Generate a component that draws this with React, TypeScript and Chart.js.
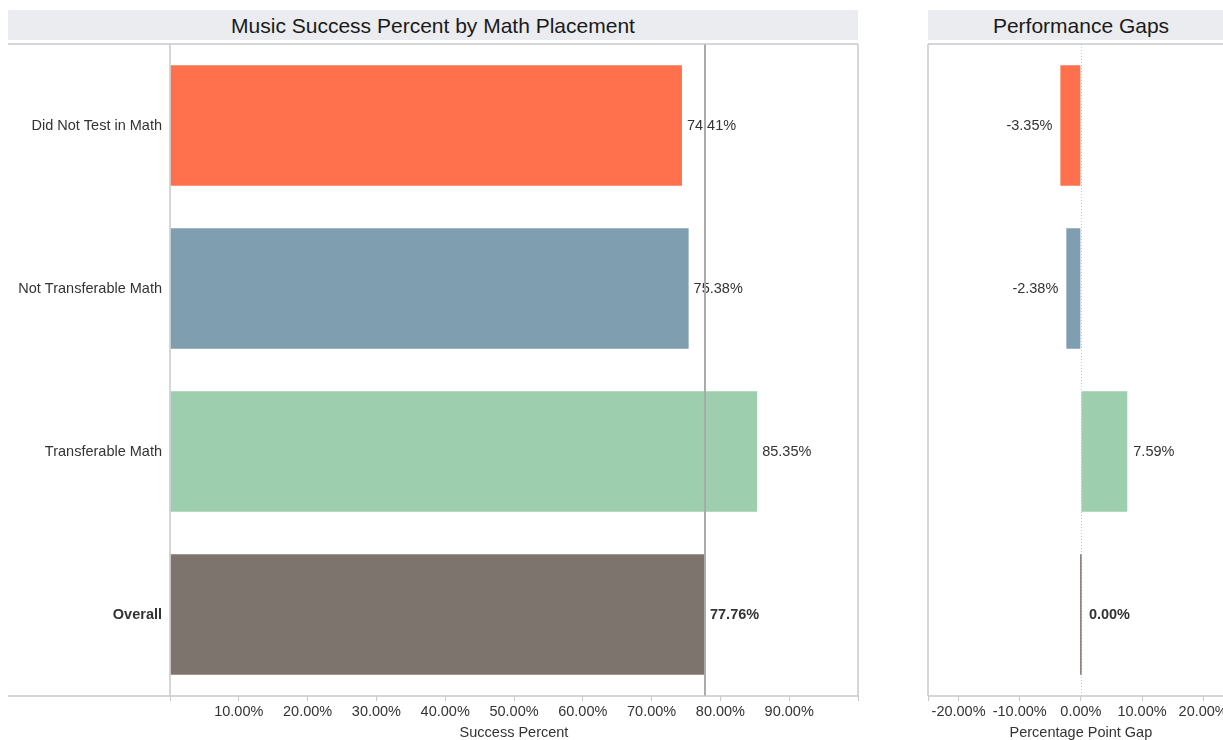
import React, { useEffect, useRef } from 'react';
import { Chart, registerables } from 'chart.js';

Chart.register(...registerables);

// ---- Data ----
const categories = ['Did Not Test in Math', 'Not Transferable Math', 'Transferable Math', 'Overall'];
const successPercent = [74.41, 75.38, 85.35, 77.76];
const performanceGap = [-3.35, -2.38, 7.59, 0.0];
const barColors = ['#fe714c', '#7f9fb0', '#9dcead', '#7e746e'];
const overallIndex = 3;

const successMin = 0;
const successMax = 100;
const successTickValues = [10, 20, 30, 40, 50, 60, 70, 80, 90];
const gapMin = -25;
const gapMax = 25;
const gapTickValues = [-20, -10, 0, 10, 20];

const leftTitle = 'Music Success Percent by Math Placement';
const rightTitle = 'Performance Gaps';
const leftAxisTitle = 'Success Percent';
const rightAxisTitle = 'Percentage Point Gap';

// ---- Style ----
const FONT = '"Liberation Sans", Arial, Helvetica, sans-serif';
const TEXT = '#333333';
const FRAME = '#c8c8c8';
const FS = 14.5;

const fmt = (v: number) => v.toFixed(2) + '%';

function hline(ctx: CanvasRenderingContext2D, x1: number, x2: number, y: number) {
  ctx.beginPath();
  ctx.moveTo(x1, y);
  ctx.lineTo(x2, y);
  ctx.stroke();
}
function vline(ctx: CanvasRenderingContext2D, x: number, y1: number, y2: number) {
  ctx.beginPath();
  ctx.moveTo(x, y1);
  ctx.lineTo(x, y2);
  ctx.stroke();
}

const leftDecor = {
  id: 'leftDecor',
  afterDatasetsDraw(chart: any) {
    const { ctx, chartArea: a, scales } = chart;
    const meta = chart.getDatasetMeta(0);
    ctx.save();
    ctx.fillStyle = TEXT;
    ctx.textAlign = 'left';
    ctx.textBaseline = 'middle';
    meta.data.forEach((bar: any, i: number) => {
      const v = successPercent[i];
      ctx.font = `${i === overallIndex ? 'bold ' : ''}${FS}px ${FONT}`;
      ctx.fillText(fmt(v), scales.x.getPixelForValue(v) + 5, bar.y);
    });
    // reference line at overall value
    const rx = scales.x.getPixelForValue(successPercent[overallIndex]);
    ctx.strokeStyle = '#aaaaaa';
    ctx.lineWidth = 2;
    vline(ctx, rx, a.top, a.bottom);
    // frame
    ctx.strokeStyle = FRAME;
    ctx.lineWidth = 1.5;
    hline(ctx, 0, a.right, a.top);
    hline(ctx, 0, a.right, a.bottom);
    vline(ctx, a.left, a.top, a.bottom);
    vline(ctx, a.right, a.top, a.bottom);
    ctx.restore();
  },
};

const rightDecor = {
  id: 'rightDecor',
  beforeDatasetsDraw(chart: any) {
    const { ctx, chartArea: a, scales } = chart;
    const zx = scales.x.getPixelForValue(0);
    ctx.save();
    ctx.strokeStyle = '#c8c8c8';
    ctx.lineWidth = 1;
    ctx.setLineDash([1, 2]);
    vline(ctx, Math.round(zx) + 0.5, a.top, a.bottom);
    ctx.restore();
  },
  afterDatasetsDraw(chart: any) {
    const { ctx, chartArea: a, scales, width } = chart;
    const meta = chart.getDatasetMeta(0);
    ctx.save();
    ctx.fillStyle = TEXT;
    ctx.textBaseline = 'middle';
    meta.data.forEach((bar: any, i: number) => {
      const v = performanceGap[i];
      const px = scales.x.getPixelForValue(v);
      ctx.font = `${i === overallIndex ? 'bold ' : ''}${FS}px ${FONT}`;
      if (v < 0) {
        ctx.textAlign = 'right';
        ctx.fillText(fmt(v), px - 8, bar.y);
      } else {
        ctx.textAlign = 'left';
        ctx.fillText(fmt(v), px + (v === 0 ? 8 : 6), bar.y);
      }
    });
    ctx.strokeStyle = FRAME;
    ctx.lineWidth = 1.5;
    hline(ctx, a.left, width, a.top);
    hline(ctx, a.left, width, a.bottom);
    vline(ctx, a.left, a.top, a.bottom);
    vline(ctx, a.right, a.top, a.bottom);
    ctx.restore();
  },
};

function xAxis(min: number, max: number, labelled: number[], title: string) {
  return {
    type: 'linear' as const,
    position: 'bottom' as const,
    min,
    max,
    afterBuildTicks: (s: any) => {
      s.ticks = [min, ...labelled, max].map((v) => ({ value: v }));
    },
    afterFit: (s: any) => {
      s.height = 44;
      s.paddingLeft = 0;
      s.paddingRight = 0;
    },
    grid: {
      display: true,
      drawOnChartArea: false,
      drawTicks: true,
      tickLength: 5,
      color: FRAME,
      lineWidth: 1,
    },
    border: { display: false },
    ticks: {
      autoSkip: false,
      maxRotation: 0,
      minRotation: 0,
      padding: 2,
      color: TEXT,
      font: { family: FONT, size: FS },
      callback: (v: any) => (labelled.includes(Number(v)) ? fmt(Number(v)) : ''),
    },
    title: {
      display: true,
      text: title,
      color: TEXT,
      padding: 0,
      font: { family: FONT, size: FS, lineHeight: 1 },
    },
  };
}

export default function App() {
  const leftRef = useRef<HTMLCanvasElement>(null);
  const rightRef = useRef<HTMLCanvasElement>(null);

  useEffect(() => {
    const left = new Chart(leftRef.current as HTMLCanvasElement, {
      type: 'bar',
      data: {
        labels: categories,
        datasets: [
          {
            data: successPercent,
            backgroundColor: barColors,
            borderWidth: 0,
            barPercentage: 0.74,
            categoryPercentage: 1,
          },
        ],
      },
      options: {
        indexAxis: 'y',
        responsive: false,
        animation: false,
        devicePixelRatio: 1,
        layout: { padding: { top: 4, right: 12, left: 0, bottom: 0 } },
        plugins: { legend: { display: false }, tooltip: { enabled: false } },
        scales: {
          x: xAxis(successMin, successMax, successTickValues, leftAxisTitle) as any,
          y: {
            type: 'category',
            afterFit: (s: any) => {
              s.width = 162;
              s.paddingTop = 0;
              s.paddingBottom = 0;
            },
            grid: { display: false, drawTicks: false },
            border: { display: false },
            ticks: {
              padding: 8,
              color: TEXT,
              font: (c: any) => ({
                family: FONT,
                size: FS,
                weight: c.index === overallIndex ? 'bold' : 'normal',
              }),
            },
          },
        },
      },
      plugins: [leftDecor],
    });

    const right = new Chart(rightRef.current as HTMLCanvasElement, {
      type: 'bar',
      data: {
        labels: categories,
        datasets: [
          {
            data: performanceGap,
            backgroundColor: barColors,
            borderWidth: 0,
            barPercentage: 0.74,
            categoryPercentage: 1,
            minBarLength: 1.5,
          },
        ],
      },
      options: {
        indexAxis: 'y',
        responsive: false,
        animation: false,
        devicePixelRatio: 1,
        layout: { padding: { top: 4, right: 6.25, left: 8, bottom: 0 } },
        plugins: { legend: { display: false }, tooltip: { enabled: false } },
        scales: {
          x: xAxis(gapMin, gapMax, gapTickValues, rightAxisTitle) as any,
          y: { type: 'category', display: false },
        },
      },
      plugins: [rightDecor],
    });

    return () => {
      left.destroy();
      right.destroy();
    };
  }, []);

  const band: React.CSSProperties = {
    position: 'absolute',
    top: 10,
    height: 30,
    lineHeight: '31px',
    background: '#ebecef',
    textAlign: 'center',
    fontSize: 21,
    color: '#1a1a1a',
    whiteSpace: 'nowrap',
    overflow: 'hidden',
  };

  return (
    <div
      style={{
        position: 'fixed',
        left: 0,
        top: 0,
        width: 1223,
        height: 740,
        overflow: 'hidden',
        background: '#ffffff',
        fontFamily: FONT,
      }}
    >
      <div style={{ ...band, left: 8, width: 850 }}>{leftTitle}</div>
      <div style={{ ...band, left: 928, width: 306 }}>{rightTitle}</div>
      <canvas
        ref={leftRef}
        width={862}
        height={700}
        style={{ position: 'absolute', left: 8, top: 40, width: 862, height: 700 }}
      />
      <canvas
        ref={rightRef}
        width={320}
        height={700}
        style={{ position: 'absolute', left: 920, top: 40, width: 320, height: 700 }}
      />
    </div>
  );
}
